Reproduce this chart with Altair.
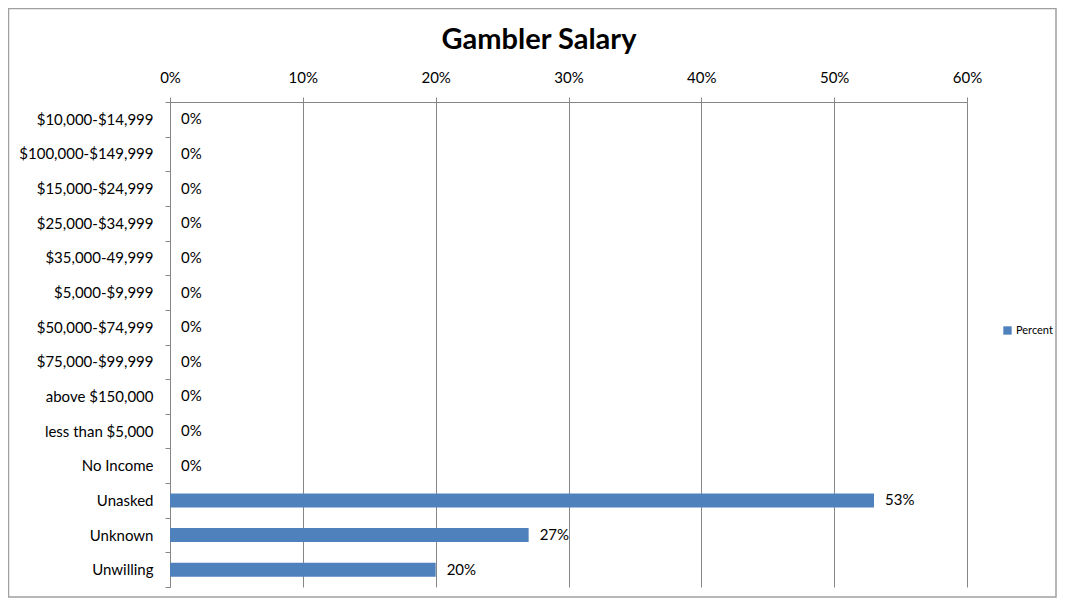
import altair as alt
import pandas as pd

categories = ["$10,000-$14,999", "$100,000-$149,999", "$15,000-$24,999", "$25,000-$34,999",
              "$35,000-49,999", "$5,000-$9,999", "$50,000-$74,999", "$75,000-$99,999",
              "above $150,000", "less than $5,000", "No Income", "Unasked", "Unknown", "Unwilling"]
percent = [0, 0, 0, 0, 0, 0, 0, 0, 0, 0, 0, 0.53, 0.27, 0.20]
series = ["Percent"] * len(categories)
chart_title = "Gambler Salary"

df = pd.DataFrame({"category": categories, "percent": percent, "series": series})

FONT = "Lato"
GRAY = "#868686"
W, H = 797, 485

y_enc = alt.Y("category:N", sort=categories, title=None,
              scale=alt.Scale(paddingInner=0, paddingOuter=0),
              axis=alt.Axis(tickBand="extent", tickSize=5, tickColor=GRAY, domainColor=GRAY,
                            labelFontSize=15, labelFont=FONT, labelColor="black",
                            labelPadding=12, grid=False))
x_enc = alt.X("percent:Q", title=None,
              scale=alt.Scale(domain=[0, 0.6], nice=False),
              axis=alt.Axis(orient="top", format=".0%", values=[0, 0.1, 0.2, 0.3, 0.4, 0.5, 0.6],
                            grid=True, gridColor=GRAY, gridOpacity=1, domainColor=GRAY,
                            tickColor=GRAY, tickSize=5, labelFontSize=15, labelFont=FONT,
                            labelColor="black", labelPadding=12, labelFlush=False))

bars = alt.Chart(df).mark_bar(size=14).encode(
    x=x_enc, y=y_enc,
    color=alt.Color("series:N", title=None,
                    scale=alt.Scale(domain=["Percent"], range=["#4F81BD"]),
                    legend=alt.Legend(orient="none", legendX=832, legendY=223,
                                      symbolType="square", symbolSize=70, symbolStrokeWidth=0,
                                      labelFontSize=11, labelFont=FONT, labelColor="black",
                                      labelOffset=3))
)

labels = alt.Chart(df).mark_text(align="left", baseline="middle", dx=11, fontSize=15,
                                  font=FONT, color="black").encode(
    x=alt.X("percent:Q"), y=alt.Y("category:N", sort=categories),
    text=alt.Text("percent:Q", format=".0%")
)

title = alt.Chart(alt.Data(values=[{"t": chart_title}])).mark_text(
    align="center", baseline="middle", fontSize=29, fontWeight="bold", font=FONT, color="black"
).encode(x=alt.value(369), y=alt.value(-62), text="t:N")

border = alt.Chart(alt.Data(values=[{}])).mark_rect(fill=None, stroke="#A0A0A0", strokeWidth=1.5).encode(
    x=alt.value(-161.5), x2=alt.value(886), y=alt.value(-93.5), y2=alt.value(495)
)

chart = alt.layer(border, bars, labels, title).properties(
    width=W, height=H,
    padding={"left": 162, "top": 94, "right": 90, "bottom": 11},
    autosize=alt.AutoSizeParams(type="none"),
).configure_view(stroke=None)

chart.save("out.html", embed_options={"renderer": "svg", "actions": False})
